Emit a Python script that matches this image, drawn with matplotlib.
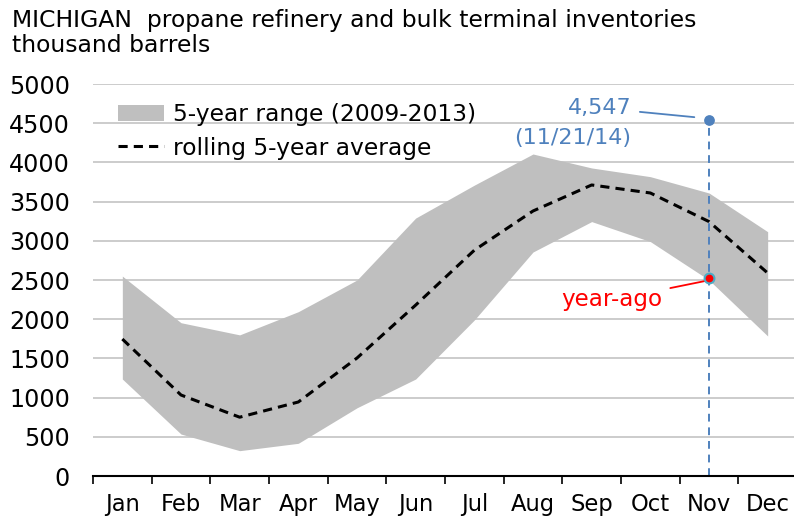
import matplotlib
matplotlib.use("Agg")
import matplotlib.pyplot as plt
from matplotlib.patches import Patch
from matplotlib.lines import Line2D
import numpy as np

plt.rcParams['font.family'] = ['DejaVu Sans']

months = ["Jan", "Feb", "Mar", "Apr", "May", "Jun", "Jul", "Aug", "Sep", "Oct", "Nov", "Dec"]
range_high = [2550, 1955, 1800, 2096, 2500, 3290, 3710, 4107, 3929, 3818, 3610, 3116]
range_low = [1237, 535, 323, 417, 870, 1237, 1990, 2857, 3245, 2990, 2500, 1786]
rolling_avg = [1747, 1033, 750, 944, 1505, 2180, 2880, 3380, 3712, 3610, 3245, 2589]
current_value = 4547
current_label = "4,547"
current_date = "(11/21/14)"
year_ago_value = 2525
marker_month = 10  # Nov
yticks = [0, 500, 1000, 1500, 2000, 2500, 3000, 3500, 4000, 4500, 5000]

fig = plt.figure(figsize=(7.94, 5.19), dpi=100)
ax = fig.add_axes([93/794, 1-476/519, 704/794, (476-84)/519])

x = np.arange(len(months))
ax.fill_between(x, range_low, range_high, color="#BFBFBF", linewidth=0, zorder=2)
ax.plot(x, rolling_avg, color="black", linestyle=(0, (3, 2)), linewidth=2.2, zorder=3)

# vertical dashed marker line
ax.plot([marker_month, marker_month], [0, current_value], color="#4F81BD",
        linestyle=(0, (4, 3)), linewidth=1.4, zorder=4)
ax.scatter([marker_month], [current_value], s=45, color="#4F81BD", zorder=6)
ax.scatter([marker_month], [year_ago_value], s=50, color="red",
           edgecolor="#4BACC6", linewidth=1.5, zorder=6)

# annotations
ax.annotate(current_label, xy=(marker_month - 0.25, current_value + 30),
            xytext=(8.68, 4694), textcoords="data",
            fontsize=16, color="#4F81BD", ha="right", va="center",
            arrowprops=dict(arrowstyle="-", color="#4F81BD", lw=1.3,
                            shrinkA=4, shrinkB=0))
ax.text(8.68, 4311, current_date, fontsize=16, color="#4F81BD", ha="right", va="center")
ax.annotate("year-ago", xy=(marker_month - 0.08, year_ago_value - 40),
            xytext=(9.2, 2245), textcoords="data",
            fontsize=16.6, color="red", ha="right", va="center",
            arrowprops=dict(arrowstyle="-", color="red", lw=1.3,
                            shrinkA=4, shrinkB=0))

ax.set_xlim(-0.5, 11.5)
ax.set_ylim(0, 5000)
ax.set_yticks(yticks)
ax.set_yticklabels([str(v) for v in yticks])
ax.set_xticks(x)
ax.set_xticklabels(months)
ax.set_xticks(np.arange(-0.5, 12, 1), minor=True)
ax.tick_params(axis="x", which="major", length=0, pad=12, labelsize=16.3)
ax.tick_params(axis="x", which="minor", length=6, width=1.2, color="black", direction="out")
ax.tick_params(axis="y", length=0, pad=16.5, labelsize=17.2)
ax.grid(axis="y", color="#BEBEBE", linewidth=1.1, zorder=0)
ax.set_axisbelow(True)
for s in ["top", "right", "left"]:
    ax.spines[s].set_visible(False)
ax.spines["bottom"].set_linewidth(1.5)
ax.spines["bottom"].set_zorder(5)

handles = [Patch(facecolor="#BFBFBF", edgecolor="none"),
           Line2D([0], [0], color="black", linestyle=(0, (3, 2)), linewidth=2.2)]
leg = ax.legend(handles, ["5-year range (2009-2013)", "rolling 5-year average"],
                loc="upper left", bbox_to_anchor=(0.022, 0.975), frameon=False,
                fontsize=16.8, handlelength=2.0, handletextpad=0.35,
                labelspacing=0.45, borderaxespad=0)

fig.text(12/794, 1-20/519, "MICHIGAN  propane refinery and bulk terminal inventories",
         fontsize=16.9, ha="left", va="center")
fig.text(12/794, 1-46/519, "thousand barrels", fontsize=16.9, ha="left", va="center")

fig.savefig("out.png", dpi=100)
